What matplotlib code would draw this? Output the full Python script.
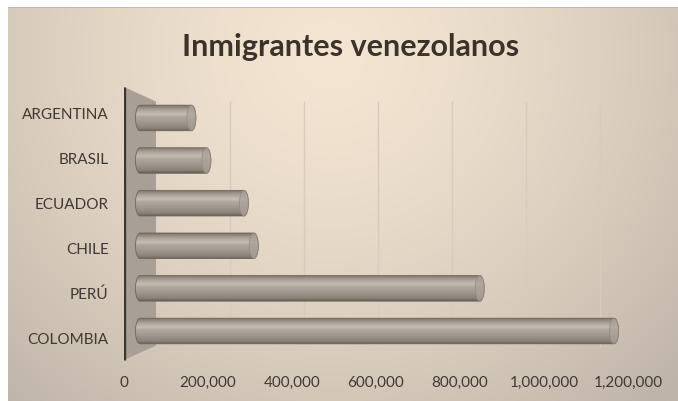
import numpy as np
import matplotlib.pyplot as plt
from matplotlib.patches import Polygon, Ellipse, PathPatch
from matplotlib.path import Path
from matplotlib.colors import LinearSegmentedColormap

# datos
paises = ['COLOMBIA', 'PERÚ', 'CHILE', 'ECUADOR', 'BRASIL', 'ARGENTINA']
inmigrantes = [1200000, 860000, 288000, 263000, 168000, 130000]
ticks_x = [0, 200000, 400000, 600000, 800000, 1000000, 1200000]
etiquetas_x = ['0', '200,000', '400,000', '600,000', '800,000', '1,000,000', '1,200,000']
titulo = 'Inmigrantes venezolanos'

plt.rcParams['font.family'] = ['Lato', 'DejaVu Sans']

W, H = 678, 402
fig = plt.figure(figsize=(W / 100, H / 100), dpi=100)
fig.patch.set_facecolor('white')

# fondo con degradado
bg = fig.add_axes([8 / W, 0, 670 / W, 394 / H])
bg.set_axis_off()
yy, xx = np.mgrid[0:1:200j, 0:1:300j]
t = np.sqrt(((xx - 0.48) / 0.72) ** 2 + ((yy - 0.12) / 1.2) ** 2)
t = np.clip(t, 0, 1) ** 1.5
claro = np.array([244, 229, 210]) / 255
oscuro = np.array([190, 180, 168]) / 255
img = claro * (1 - t[..., None]) + oscuro * t[..., None]
bg.imshow(img, extent=[0, 1, 0, 1], aspect='auto', origin='upper')
bg.set_xlim(0, 1)
bg.set_ylim(0, 1)
bg.plot([0, 1], [1, 1], color='#bdb3a7', lw=1.2)

# ejes principales (plano frontal)
ax = fig.add_axes([124 / W, (H - 365) / H, 546 / W, 305 / H])
ax.patch.set_alpha(0)
for s in ax.spines.values():
    s.set_visible(False)

def px(d):
    # profundidad: 0 frente, 1 fondo
    return 76190 * d, 1 - 0.119 * d

yc = 2.511
def prof_x(v, d):
    off, k = px(d)
    return off + np.asarray(v) * k

def prof_y(i, d):
    return yc + (np.asarray(i, dtype=float) - yc) * (1 - 0.106 * d)

y_top, y_bot = 5.556, -0.511

# pared lateral
pared = Polygon([[0, y_top], [prof_x(0, 1), prof_y(y_top, 1)],
                 [prof_x(0, 1), prof_y(y_bot, 1)], [0, y_bot]],
                closed=True, facecolor='#a8a096', edgecolor='none', zorder=1)
ax.add_patch(pared)
ax.plot([0, 0], [y_bot, y_top], color='#3b3632', lw=2.4, zorder=2,
        solid_capstyle='butt')

# cuadricula del fondo
for tv in ticks_x[1:]:
    xb = prof_x(tv, 1)
    ax.plot([xb, xb], [prof_y(y_bot, 1), prof_y(y_top, 1)], color='#d6cbbd',
            lw=1, zorder=0.5)

# cilindros
cmap_barra = LinearSegmentedColormap.from_list('barra', [
    (0.0, '#645c54'), (0.1, '#8a8278'), (0.35, '#a29a90'), (0.55, '#b0a89e'),
    (0.65, '#c6beb3'), (0.8, '#aea69c'), (0.93, '#90887e'), (1.0, '#746c63')])
grad = np.linspace(0, 1, 100)[:, None]
alto = 0.6 * 0.947
ew = 9 / 84 * 200000

for i, v in enumerate(inmigrantes):
    x0 = prof_x(0, 0.5)
    x1 = prof_x(v, 0.5)
    cy = float(prof_y(i, 0.5))
    th = np.linspace(np.pi / 2, 3 * np.pi / 2, 40)
    izq = np.column_stack([x0 + ew / 2 * np.cos(th), cy + alto / 2 * np.sin(th)])
    th2 = np.linspace(-np.pi / 2, np.pi / 2, 40)
    der = np.column_stack([x1 + ew / 2 * np.cos(th2), cy + alto / 2 * np.sin(th2)])
    verts = np.vstack([izq, der, izq[:1]])
    contorno = PathPatch(Path(verts), facecolor='none', edgecolor='#6e665d',
                         lw=0.6, zorder=3.5)
    ax.add_patch(contorno)
    im = ax.imshow(grad, extent=[x0 - ew / 2, x1 + ew / 2, cy - alto / 2, cy + alto / 2],
                   aspect='auto', cmap=cmap_barra, origin='lower', zorder=3)
    im.set_clip_path(contorno)
    tapa = Ellipse((x1, cy), ew, alto, facecolor='#aca49a', edgecolor='#8e867d',
                   lw=0.6, zorder=4, alpha=0.75)
    ax.add_patch(tapa)

ax.set_xlim(0, 1300000)
ax.set_ylim(-0.6, 6.178)
ax.set_xticks(ticks_x, etiquetas_x)
ax.set_yticks(range(len(paises)), paises)
ax.tick_params(axis='both', length=0, labelsize=11, labelcolor='#3f3a35')
ax.tick_params(axis='y', pad=11)
ax.tick_params(axis='x', pad=8)

fig.text(351 / W, 1 - 47 / H, titulo, ha='center', va='center', fontsize=22,
         fontweight='bold', color='#3b332b')

fig.savefig('out.png', dpi=100)
